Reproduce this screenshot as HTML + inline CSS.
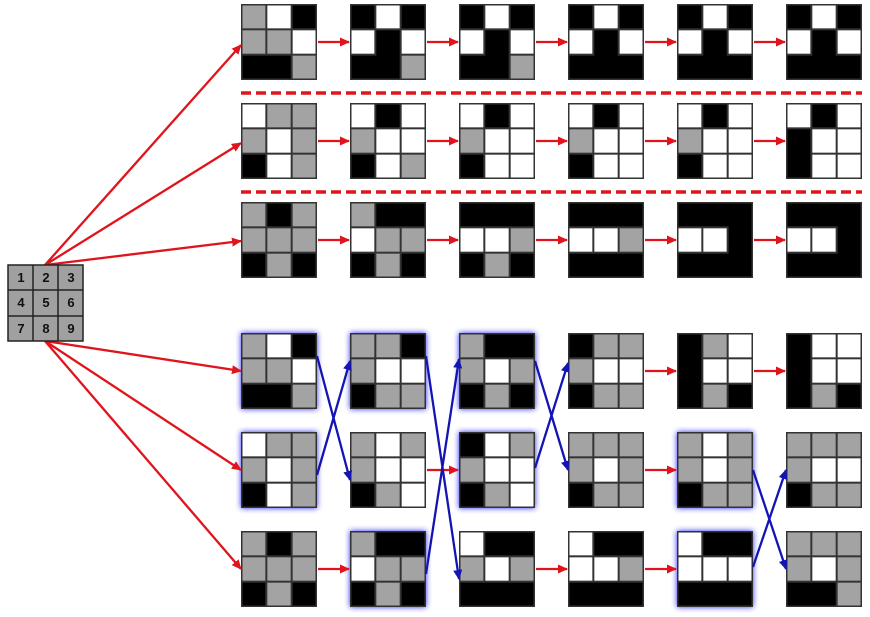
<!DOCTYPE html>
<html><head><meta charset="utf-8"><style>
html,body{margin:0;padding:0;background:#fff;width:870px;height:617px;overflow:hidden}
svg{position:absolute;left:0;top:0}
</style></head><body>
<svg id="s" width="870" height="617" xmlns="http://www.w3.org/2000/svg">
<defs>
<marker id="mr" markerWidth="10" markerHeight="9" refX="9" refY="4.5" orient="auto" markerUnits="userSpaceOnUse" viewBox="0 0 10 9"><path d="M0,0 L10,4.5 L0,9 Z" fill="#e0141c"/></marker>
<marker id="mb" markerWidth="10" markerHeight="9" refX="9" refY="4.5" orient="auto" markerUnits="userSpaceOnUse" viewBox="0 0 10 9"><path d="M0,0 L10,4.5 L0,9 Z" fill="#1414b4"/></marker>
<filter id="glow" x="-25%" y="-25%" width="150%" height="150%"><feDropShadow dx="0" dy="0" stdDeviation="3" flood-color="#2020ff" flood-opacity="1"/></filter>
</defs>
<g id="grids"></g>
<g id="arrows"></g>
<g font-family="Liberation Sans, DejaVu Sans, sans-serif" font-weight="bold" font-size="13" fill="#111" text-anchor="middle">
<rect x="8" y="265" width="75" height="76" fill="#a0a0a0" stroke="#222" stroke-width="1.5"/>
<line x1="33" y1="265" x2="33" y2="341" stroke="#222" stroke-width="1.5"/>
<line x1="58" y1="265" x2="58" y2="341" stroke="#222" stroke-width="1.5"/>
<line x1="8" y1="290" x2="83" y2="290" stroke="#222" stroke-width="1.5"/>
<line x1="8" y1="316" x2="83" y2="316" stroke="#222" stroke-width="1.5"/>
<text x="21" y="282">1</text><text x="46" y="282">2</text><text x="71" y="282">3</text>
<text x="21" y="307">4</text><text x="46" y="307">5</text><text x="71" y="307">6</text>
<text x="21" y="333">7</text><text x="46" y="333">8</text><text x="71" y="333">9</text>
</g>
</svg>
<script>
var X=[241,350,459,568,677,786],Y=[4,103,202,333,432,531],S=76;
var D=[
["GWKGGWKKG","KWKWKWKKG","KWKWKWKKG","KWKWKWKKK","KWKWKWKKK","KWKWKWKKK"],
["WGGGWGKWG","WKWGWWKWG","WKWGWWKWW","WKWGWWKWW","WKWGWWKWW","WKWKWWKWW"],
["GKGGGGKGK","GKKWGGKGK","KKKWWGKGK","KKKWWGKKK","KKKWWKKKK","KKKWWKKKK"],
["GWKGGWKKG","GGKGWWKGG","GKKGWGKGK","KGGGWWKGG","KGWKWWKGK","KWWKWWKGK"],
["WGGGWGKWG","GWGGWWKGW","KWGGWWKGW","GGGGWGKGG","GWGGWGKGG","GGGGWWKGG"],
["GKGGGGKGK","GKKWGGKGK","WKKGWGKKK","WKKWWGKKK","WKKWWWKKK","GGGGWGKKG"]];
var glow={"3,0":1,"3,1":1,"3,2":1,"4,0":1,"4,2":1,"4,4":1,"5,1":1,"5,4":1};
var C={G:"#a3a3a3",W:"#ffffff",K:"#000000"};
var h="";var c=S/3;
for(var r=0;r<6;r++)for(var k=0;k<6;k++){
 var x=X[k],y=Y[r],d=D[r][k];
 h+='<g'+(glow[r+","+k]?' filter="url(#glow)"':'')+'>';
 h+='<rect x="'+x+'" y="'+y+'" width="'+S+'" height="'+S+'" fill="#333"/>';
 for(var i=0;i<9;i++){var cx=x+(i%3)*c,cy=y+Math.floor(i/3)*c,f=C[d[i]];
  h+='<rect x="'+(cx+1)+'" y="'+(cy+1)+'" width="'+(c-2)+'" height="'+(c-2)+'" fill="'+f+'"/>';}
 for(var i=0;i<9;i++){if(d[i]!="K")continue;var cx=x+(i%3)*c,cy=y+Math.floor(i/3)*c;
  if(i%3<2&&d[i+1]=="K")h+='<rect x="'+(cx+c-2)+'" y="'+(cy+1)+'" width="4" height="'+(c-2)+'" fill="#000"/>';
  if(i<6&&d[i+3]=="K")h+='<rect x="'+(cx+1)+'" y="'+(cy+c-2)+'" width="'+(c-2)+'" height="4" fill="#000"/>';}
 h+='<rect x="'+(x+0.75)+'" y="'+(y+0.75)+'" width="'+(S-1.5)+'" height="'+(S-1.5)+'" fill="none" stroke="#333" stroke-width="1.5"/>';
 h+='</g>';}
document.getElementById("grids").innerHTML=h;
var a="";
function ln(x1,y1,x2,y2,col){a+='<line x1="'+x1+'" y1="'+y1+'" x2="'+x2+'" y2="'+y2+'" stroke="'+(col=="b"?"#1414b4":"#e0141c")+'" stroke-width="2.3" marker-end="url(#m'+(col=="b"?"b":"r")+')"/>';}
var tg=[45,143,241],bg=[371,470,569];
for(var i=0;i<3;i++){ln(45,265,241,tg[i],"r");ln(45,341,241,bg[i],"r");}
for(var r=0;r<3;r++)for(var k=0;k<5;k++)ln(X[k]+S+1,Y[r]+S/2,X[k+1]-1,Y[r]+S/2,"r");
a+='<line x1="241" y1="93" x2="862" y2="93" stroke="#e0141c" stroke-width="3.5" stroke-dasharray="10,5"/>';
a+='<line x1="241" y1="192" x2="862" y2="192" stroke="#e0141c" stroke-width="3.5" stroke-dasharray="10,5"/>';
var R=[3,4,5];
function m(r){return Y[R[r]]+S/2;}
ln(X[1]+S+1,m(1),X[2]-1,m(1),"r");
ln(X[3]+S+1,m(0),X[4]-1,m(0),"r");ln(X[4]+S+1,m(0),X[5]-1,m(0),"r");
ln(X[3]+S+1,m(1),X[4]-1,m(1),"r");
ln(X[0]+S+1,m(2),X[1]-1,m(2),"r");ln(X[2]+S+1,m(2),X[3]-1,m(2),"r");ln(X[3]+S+1,m(2),X[4]-1,m(2),"r");
ln(X[0]+S,m(0)-15,X[1],m(1)+10,"b");
ln(X[0]+S,m(1)+5,X[1],m(0)-10,"b");
ln(X[1]+S,m(0)-15,X[2],m(2)+10,"b");
ln(X[1]+S,m(2)+5,X[2],m(0)-12,"b");
ln(X[2]+S,m(0)-10,X[3],m(1)+0,"b");
ln(X[2]+S,m(1)-2,X[3],m(0)-8,"b");
ln(X[4]+S,m(1)+0,X[5],m(2)+0,"b");
ln(X[4]+S,m(2)-2,X[5],m(1)+0,"b");
document.getElementById("arrows").innerHTML=a;
</script>
</body></html>
